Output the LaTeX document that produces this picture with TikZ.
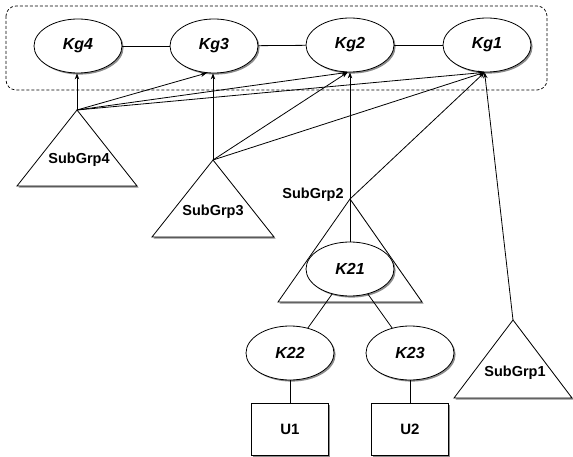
\documentclass[tikz,border=0pt]{standalone}
\usepackage{fontspec}
\setmainfont{Liberation Sans}
\usetikzlibrary{shapes.geometric,shadows,arrows.meta,calc}
\newcommand\mytri[4]{%
  \fill[black!45] (#1+1.6,#2+1.6) -- (#1+#3+1.6,#2+#4+1.6) -- (#1-#3+1.6,#2+#4+1.6) -- cycle;
  \draw[fill=white] (#1,#2) -- (#1+#3,#2+#4) -- (#1-#3,#2+#4) -- cycle;}
\begin{document}
\begin{tikzpicture}[x=1pt,y=-1pt,line width=0.8pt,
  shad/.style={drop shadow={shadow xshift=1.6pt,shadow yshift=-1.6pt,fill=black!45,opacity=1}},
  kell/.style={ellipse,draw,fill=white,minimum width=88pt,minimum height=54pt,inner sep=0pt,
     font=\fontsize{16}{18}\selectfont\bfseries\itshape,shad},
  ubox/.style={rectangle,draw,fill=white,minimum width=77pt,minimum height=52pt,inner sep=0pt,
     font=\fontsize{15}{17}\selectfont\bfseries,shad},
  tlab/.style={font=\fontsize{14.5}{17}\selectfont\bfseries,inner sep=0pt},
  arr/.style={-{Stealth[length=6pt,width=4.5pt]}},
  grp/.style={draw,dashed,dash pattern=on 3pt off 2pt,rounded corners=10pt,line width=0.7pt}]
\useasboundingbox (0,0) rectangle (573,457);
% group box
\draw[grp] (6,6) rectangle (547,90);
% triangles
\mytri{77}{110}{60}{76}
\mytri{213}{160}{61}{77}
\mytri{350}{199}{72}{103}
\mytri{513}{320}{59}{78}
\coordinate (s4) at (77,110);
\coordinate (s3) at (213,160);
\coordinate (s2) at (350,199);
\coordinate (s1) at (513,320);
% top ellipses
\node[kell] (kg4) at (78,46) {Kg4};
\node[kell] (kg3) at (214,46) {Kg3};
\node[kell] (kg2) at (350,45) {Kg2};
\node[kell] (kg1) at (487,45) {Kg1};
\draw (kg4) -- (kg3);
\draw (kg3) -- (kg2);
\draw (kg2) -- (kg1);
% lower tree
\node[kell] (k21) at (350,269) {K21};
\node[kell] (k22) at (290,353) {K22};
\node[kell] (k23) at (410,353) {K23};
\node[ubox] (u1) at (290,429) {U1};
\node[ubox] (u2) at (410,429) {U2};
\draw (s2) -- (k21.north);
\draw (k21) -- (k22);
\draw (k21) -- (k23);
\draw (k22) -- (u1);
\draw (k23) -- (u2);
% arrows
\draw[arr] (s4) -- (s4 |- kg4.south);
\draw[arr] (s4) -- (kg3.255);
\draw[arr] (s4) -- (kg2.265);
\draw[arr] (s4) -- (kg1.265);
\draw[arr] (s3) -- (s3 |- kg3.south);
\draw[arr] (s3) -- (kg2.265);
\draw[arr] (s3) -- (kg1.265);
\draw[arr] (s2) -- (kg2.south);
\draw[arr] (s2) -- (kg1.265);
\draw[arr] (s1) -- (kg1.265);
% labels
\node[tlab] (l4) at (79,160) {SubGrp4};
\node[tlab] (l3) at (213,212) {SubGrp3};
\node[tlab,anchor=east] (l2) at (344,195) {SubGrp2};
\node[tlab] (l1) at (515,373) {SubGrp1};
\end{tikzpicture}
\end{document}
